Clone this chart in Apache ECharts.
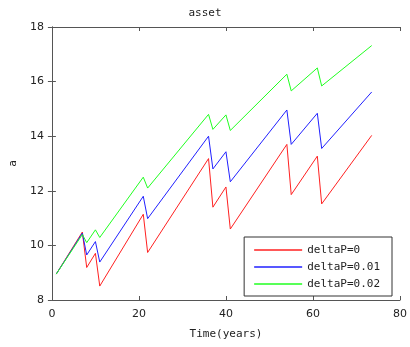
<!DOCTYPE html>
<html><head><meta charset="utf-8">
<script src="https://cdn.jsdelivr.net/npm/echarts@6/dist/echarts.min.js"></script>
<style>html,body{margin:0;padding:0;background:#fff}#c{width:410px;height:347px}</style>
</head><body><div id="c"></div>
<script>
const years = [1, 7, 8, 10, 11, 21, 22, 36, 37, 40, 41, 54, 55, 61, 62, 73.5];
const delta0 =  [8.95, 10.49, 9.19, 9.71, 8.51, 11.14, 9.74, 13.18, 11.4, 12.14, 10.6, 13.7, 11.86, 13.27, 11.52, 14.03];
const delta01 = [8.95, 10.45, 9.65, 10.14, 9.39, 11.8, 10.98, 14.0, 12.8, 13.43, 12.33, 14.96, 13.7, 14.84, 13.55, 15.62];
const delta02 = [8.95, 10.4, 10.1, 10.57, 10.29, 12.5, 12.1, 14.8, 14.25, 14.78, 14.21, 16.27, 15.66, 16.5, 15.84, 17.32];
const seriesNames = ['deltaP=0', 'deltaP=0.01', 'deltaP=0.02'];
const xTicks = [0, 20, 40, 60, 80];
const yTicks = [8, 10, 12, 14, 16, 18];

const pairs = v => years.map((x, i) => [x, v[i]]);
const font = 'DejaVu Sans Mono, monospace';
const axisCommon = {
  axisLine: {show: true, lineStyle: {color: '#555', width: 1}},
  axisTick: {show: true, inside: true, length: 4, lineStyle: {color: '#555'}},
  splitLine: {show: false}
};
const chart = echarts.init(document.getElementById('c'), null, {renderer: 'canvas'});
chart.setOption({
  animation: false,
  backgroundColor: '#fff',
  title: {text: 'asset', left: 'center', top: 3, textStyle: {fontFamily: font, fontSize: 11, fontWeight: 'normal', color: '#222'}},
  grid: {left: 51, right: 9, top: 27, bottom: 47, containLabel: false},
  xAxis: [
    Object.assign({type: 'value', min: xTicks[0], max: xTicks[xTicks.length-1], interval: 20,
      name: 'Time(years)', nameLocation: 'middle', nameGap: 29,
      nameTextStyle: {fontFamily: font, fontSize: 11, color: '#222'},
      axisLabel: {fontSize: 11, color: '#222', margin: 9, fontFamily: 'DejaVu Sans'}}, axisCommon),
    Object.assign({type: 'value', position: 'top', min: 0, max: 80, interval: 20, axisLabel: {show: false}}, axisCommon)
  ],
  yAxis: [
    Object.assign({type: 'value', min: yTicks[0], max: yTicks[yTicks.length-1], interval: 2,
      name: 'a', nameLocation: 'middle', nameGap: 32,
      nameTextStyle: {fontFamily: font, fontSize: 11, color: '#222'},
      axisLabel: {fontSize: 11, color: '#222', margin: 8, fontFamily: 'DejaVu Sans'}}, axisCommon),
    Object.assign({type: 'value', position: 'right', min: 8, max: 18, interval: 2, axisLabel: {show: false}}, axisCommon)
  ],
  legend: {
    orient: 'vertical', right: 18, bottom: 51,
    data: seriesNames,
    icon: 'rect',
    borderColor: '#333', borderWidth: 1, borderRadius: 0,
    padding: [7, 12, 6, 10], itemGap: 5, itemWidth: 48, itemHeight: 1.5,
    textStyle: {fontFamily: font, fontSize: 11, color: '#222', lineHeight: 12},
    backgroundColor: '#fff'
  },
  series: [
    {name: seriesNames[0], type: 'line', data: pairs(delta0), symbol: 'none', color: '#ff2020', lineStyle: {width: 1}},
    {name: seriesNames[1], type: 'line', data: pairs(delta01), symbol: 'none', color: '#2020ff', lineStyle: {width: 1}},
    {name: seriesNames[2], type: 'line', data: pairs(delta02), symbol: 'none', color: '#20ff20', lineStyle: {width: 1}}
  ]
});
</script></body></html>
